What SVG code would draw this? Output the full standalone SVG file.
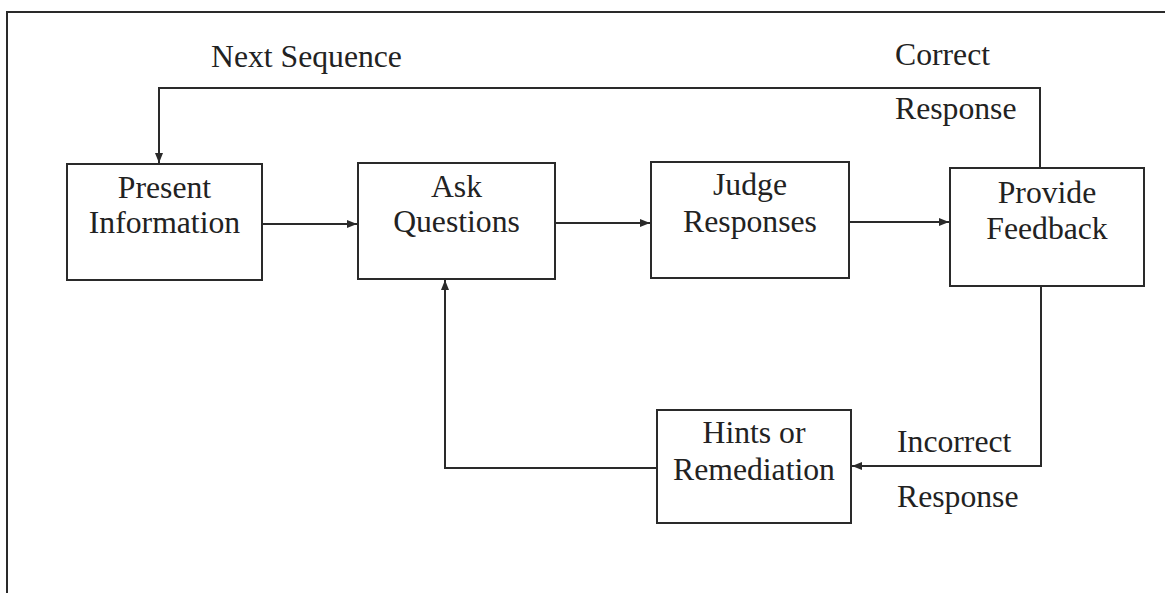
<svg xmlns="http://www.w3.org/2000/svg" width="1165" height="593" viewBox="0 0 1165 593">
<style>
.box{fill:none;stroke:#2a2a2a;stroke-width:2}
.ln{fill:none;stroke:#2a2a2a;stroke-width:2}
.t{font-family:"Liberation Serif","Times New Roman",serif;font-size:31.7px;fill:#222;text-anchor:middle}
.l{font-family:"Liberation Serif","Times New Roman",serif;font-size:31.7px;fill:#222}
</style>
<defs>
<marker id="ah" viewBox="0 0 10 10" refX="10" refY="5" markerWidth="5" markerHeight="5" orient="auto" markerUnits="strokeWidth">
<path d="M0,1 L10,5 L0,9 z" fill="#2a2a2a"/>
</marker>
</defs>
<rect width="1165" height="593" fill="#fff"/>
<g id="frame">
<path class="ln" d="M7,593 V12 H1165" stroke-width="2.5"/>
</g>
<g id="connectors">
<path class="ln" d="M1040,168 V88 H159 V163" marker-end="url(#ah)"/>
<path class="ln" d="M262,224 H357" marker-end="url(#ah)"/>
<path class="ln" d="M555,223 H650" marker-end="url(#ah)"/>
<path class="ln" d="M849,222 H949" marker-end="url(#ah)"/>
<path class="ln" d="M1041,286 V466 H852" marker-end="url(#ah)"/>
<path class="ln" d="M657,468 H445 V280" marker-end="url(#ah)"/>
</g>
<g id="present">
<rect class="box" x="67" y="164" width="195" height="116"/>
<text class="t" x="164.5" y="198">Present</text>
<text class="t" x="164.5" y="233">Information</text>
</g>
<g id="ask">
<rect class="box" x="358" y="163" width="197" height="116"/>
<text class="t" x="456.5" y="197">Ask</text>
<text class="t" x="456.5" y="232">Questions</text>
</g>
<g id="judge">
<rect class="box" x="651" y="162" width="198" height="116"/>
<text class="t" x="750" y="195">Judge</text>
<text class="t" x="750" y="232">Responses</text>
</g>
<g id="feedback">
<rect class="box" x="950" y="168" width="194" height="118"/>
<text class="t" x="1047" y="203">Provide</text>
<text class="t" x="1047" y="239">Feedback</text>
</g>
<g id="hints">
<rect class="box" x="657" y="410" width="194" height="113"/>
<text class="t" x="754" y="443">Hints or</text>
<text class="t" x="754" y="480">Remediation</text>
</g>
<g id="labels">
<text class="l" x="211" y="67">Next Sequence</text>
<text class="l" x="895" y="65">Correct</text>
<text class="l" x="895" y="119">Response</text>
<text class="l" x="897" y="452">Incorrect</text>
<text class="l" x="897" y="507">Response</text>
</g>
</svg>
